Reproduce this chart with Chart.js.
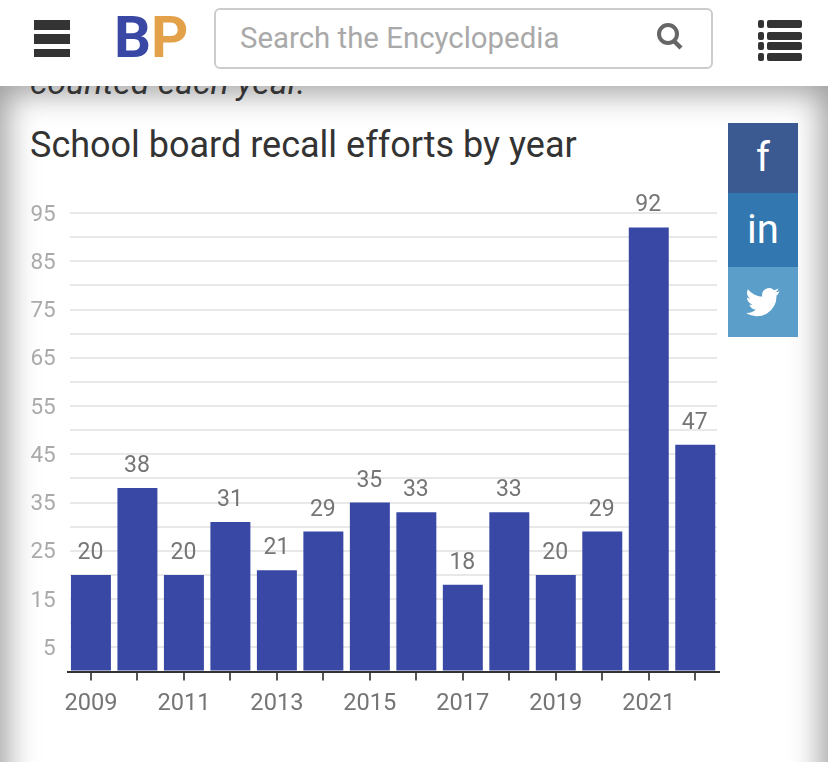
<!DOCTYPE html>
<html><head><meta charset="utf-8">
<script src="https://cdn.jsdelivr.net/npm/chart.js@4"></script>
<style>
html,body{margin:0;padding:0;background:#fff;overflow:hidden;width:828px;height:762px;font-family:Roboto,sans-serif}
.abs{position:absolute}
#vig{left:0;top:86px;width:828px;height:780px;box-shadow:inset 0 0 32px 6px #9a9a9a}
#chart{position:absolute;left:0;top:0}
#head{left:0;top:0;width:828px;height:86px;background:#fff}
</style></head><body>
<div class="abs" id="vig"></div>
<div class="abs" style="left:30px;top:62px;font:italic 34px Roboto;color:#333;line-height:40px">counted each year.</div>
<div class="abs" id="head"></div>
<div class="abs" style="left:34px;top:20px;width:36px;height:10px;background:#333"></div>
<div class="abs" style="left:34px;top:34px;width:36px;height:10px;background:#333"></div>
<div class="abs" style="left:34px;top:49px;width:36px;height:8px;background:#333"></div>
<div class="abs" style="left:114px;top:6px;font:bold 58px Roboto;color:#3848a4;line-height:62px">B<span style="color:#e3a24a">P</span></div>
<div class="abs" style="left:214px;top:8px;width:495px;height:57px;border:2px solid #ccc;border-radius:6px;background:#fff"></div>
<div class="abs" style="left:240px;top:21px;font:29.4px Roboto;color:#a9a9a9;line-height:34px">Search the Encyclopedia</div>
<svg class="abs" style="left:655px;top:21px" width="30" height="30"><circle cx="13" cy="13" r="9" fill="none" stroke="#666" stroke-width="4"/><line x1="19" y1="20" x2="26" y2="27" stroke="#666" stroke-width="4.5"/></svg>
<svg class="abs" style="left:756px;top:18px" width="50" height="44" fill="#333">
<rect x="2" y="2" width="6" height="8" rx="2"/><rect x="11" y="2" width="35" height="8" rx="2"/>
<rect x="2" y="14" width="6" height="8" rx="2"/><rect x="11" y="14" width="35" height="8" rx="2"/>
<rect x="2" y="24" width="6" height="8" rx="2"/><rect x="11" y="24" width="35" height="8" rx="2"/>
<rect x="2" y="35" width="6" height="8" rx="2"/><rect x="11" y="35" width="35" height="8" rx="2"/></svg>
<div class="abs" style="left:30px;top:123px;font:36px Roboto;color:#333;line-height:44px">School board recall efforts by year</div>
<canvas id="chart" width="828" height="762"></canvas>
<div class="abs" style="left:67px;top:205px;width:3px;height:460px;background:#fff"></div>
<div class="abs" style="left:717px;top:205px;width:4px;height:460px;background:#fff"></div>
<div class="abs" style="left:728px;top:123px;width:70px;height:70px;background:#3b5a91;color:#fff;font:40px Roboto;text-align:center;line-height:70px">f</div>
<div class="abs" style="left:728px;top:193px;width:70px;height:74px;background:#3277b0;color:#fff;font:40px Roboto;text-align:center;line-height:74px">in</div>
<div class="abs" style="left:728px;top:267px;width:70px;height:70px;background:#5a9ec9"></div>
<svg class="abs" style="left:746px;top:287px" width="34" height="30" viewBox="0 0 24 20" fill="#fff"><path d="M23.6 2.4c-.9.4-1.8.7-2.8.8 1-.6 1.8-1.5 2.1-2.7-.9.6-2 1-3.100 1.200A4.900 4.900 0 0 0 11.500 6.200C7.400 6 3.800 4 1.400 1 .1 3.200.8 6 2.900 7.500c-.8 0-1.500-.2-2.200-.6 0 2.400 1.700 4.400 3.900 4.900-.7.200-1.500.2-2.200.1.600 2 2.400 3.400 4.600 3.400A9.900 9.900 0 0 1 0 17.800 13.900 13.900 0 0 0 21.500 5.400c1-.7 1.800-1.600 2.100-3z"/></svg>
<script>
const categories=['2009','2010','2011','2012','2013','2014','2015','2016','2017','2018','2019','2020','2021','2022'];
const recallEfforts=[20,38,20,31,21,29,35,33,18,33,20,29,92,47];
const yTickLabels=[5,15,25,35,45,55,65,75,85,95];
const xTickLabels=['2009','2011','2013','2015','2017','2019','2021'];
const valueLabels={id:'valueLabels',afterDatasetsDraw(c){
  const g=c.ctx,m=c.getDatasetMeta(0);
  g.save();g.font='23px Roboto';g.fillStyle='#757575';g.textAlign='center';g.textBaseline='alphabetic';
  m.data.forEach((b,i)=>g.fillText(recallEfforts[i],b.x-0.5,b.y-16));
  g.restore();
}};
new Chart(document.getElementById('chart'),{
  type:'bar',
  data:{labels:categories,datasets:[{data:recallEfforts,backgroundColor:'#3848a4',barPercentage:0.86,categoryPercentage:1}]},
  plugins:[valueLabels],
  options:{
    responsive:false,animation:false,devicePixelRatio:1,
    layout:{padding:{left:0,top:213,right:109.5,bottom:0}},
    plugins:{legend:{display:false},tooltip:{enabled:false},title:{display:false}},
    scales:{
      x:{
        afterFit(s){s.height=90.5},
        grid:{display:true,drawOnChartArea:false,drawTicks:true,tickLength:9,color:'#555555',tickColor:'#555555',tickWidth:2,lineWidth:2,offset:false},
        border:{color:'#333',width:2},
        ticks:{autoSkip:false,maxRotation:0,padding:9,color:'#757575',font:{family:'Roboto',size:23.6},
          callback(v){const l=this.getLabelForValue(v);return xTickLabels.includes(l)?l:''}}
      },
      y:{
        min:0,max:95,
        afterFit(s){s.width=67.7},
        grid:{color:'#e8e8e8',lineWidth:2,drawTicks:false},
        border:{display:false},
        ticks:{stepSize:5,autoSkip:false,padding:12,labelOffset:2,color:'#aaaaaa',font:{family:'Roboto',size:22.5},
          callback(v){return yTickLabels.includes(v)?String(v):''}}
      }
    }
  }
});
</script>
</body></html>
